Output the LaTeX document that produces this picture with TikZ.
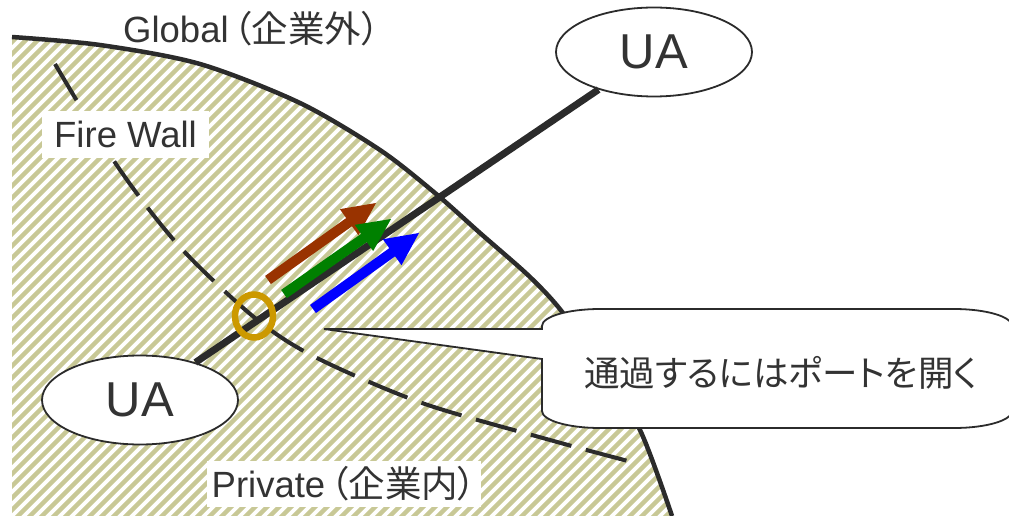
\documentclass[tikz,border=0pt]{standalone}
\usepackage{fontspec}
\setmainfont{Liberation Sans}
\newfontfamily\jp[RawFeature={+palt}]{Noto Sans CJK JP}
\usetikzlibrary{calc,shapes.geometric}
\definecolor{ink}{HTML}{2B2B2B}
\definecolor{txt}{HTML}{333333}
\definecolor{hatchc}{HTML}{C8C896}
\definecolor{brownA}{HTML}{993300}
\definecolor{greenA}{HTML}{008000}
\definecolor{blueA}{HTML}{0000FF}
\definecolor{goldA}{HTML}{CC9900}
\begin{document}
\begin{tikzpicture}[x=1pt,y=-1pt,
  hatchline/.style={hatchc, line width=4.5pt},
  boundary/.style={ink, line width=4.5pt},
  fwline/.style={ink, line width=4pt, dash pattern=on 42pt off 15pt},
  uanode/.style={ellipse, draw=ink, line width=1.8pt, fill=white, minimum width=196pt, minimum height=89pt, inner sep=0pt, text=txt, font=\fontsize{49}{52}\selectfont},
  ualine/.style={ink, line width=7pt},
  tagbox/.style={fill=white, text=txt, font=\fontsize{36.5}{40}\selectfont, inner xsep=0pt, inner ysep=0pt, text height=33pt, text depth=6pt, minimum height=46pt},
  plaintext/.style={inner sep=0pt, text=txt},
  portring/.style={ellipse, draw=goldA, line width=6.5pt, minimum width=38pt, minimum height=43pt, inner sep=0pt},
  bubble/.style={draw=ink, line width=1.8pt, fill=white}
]
\clip (0,0) rectangle (1009,516);

% hatched private region
\begin{scope}
  \clip plot[smooth] coordinates {(12,37) (100,45) (200,64) (300,103) (380,150) (435,193) (480,233) (530,277) (563,313) (601,370) (640,430) (672,516)} -- (12,516) -- cycle;
  \foreach \i in {-500,-488,...,700} \draw[hatchline] (\i,530) -- ++(560,-560);
\end{scope}
\draw[boundary] plot[smooth] coordinates {(12,37) (100,45) (200,64) (300,103) (380,150) (435,193) (480,233) (530,277) (563,313) (601,370) (640,430) (672,516)};

% fire wall (dashed)
\draw[fwline] plot[smooth] coordinates {(55,64) (118,167) (180,247) (255,318) (315,357) (422,403) (550,440) (628,461)};

% labels with white background
\node[tagbox, minimum width=167pt, anchor=base] (fw) at (125.5,148) {Fire Wall};
\node[tagbox, minimum width=274pt, anchor=base] (priv) at (344,497) {Private\kern5pt{\jp （企業内）}};

% user agents and link
\node[uanode] (ua2) at (654,52) {UA};
\node[uanode] (ua1) at (140,400) {UA};
\draw[ualine] (ua1) -- (ua2);

% port ring
\node[portring] (port) at (254,316) {};

% block arrows
\coordinate (b-T) at (268,280); \coordinate (b-P) at (376,203);
\coordinate (g-T) at (284,294); \coordinate (g-P) at (391,219);
\coordinate (u-T) at (313,309); \coordinate (u-P) at (419,233);
\foreach \c/\n in {brownA/b, greenA/g, blueA/u} {
  \coordinate (\n-B) at ($(\n-P)!33pt!(\n-T)$);
  \fill[\c] ($(\n-T)!5pt!90:(\n-P)$) -- ($(\n-B)!5pt!90:(\n-P)$) -- ($(\n-B)!16pt!90:(\n-P)$) -- (\n-P)
    -- ($(\n-B)!16pt!-90:(\n-P)$) -- ($(\n-B)!5pt!-90:(\n-P)$) -- ($(\n-T)!5pt!-90:(\n-P)$) -- cycle;
}

% callout
\coordinate (tip) at (324,329);
\draw[bubble] (tip) -- (542,329) -- (542,326) .. controls (542,316.6) and (568,309) .. (600,309) -- (954,309)
  .. controls (986,309) and (1012,316.6) .. (1012,326) -- (1012,411)
  .. controls (1012,420.4) and (986,428) .. (954,428) -- (600,428)
  .. controls (568,428) and (542,420.4) .. (542,411) -- (542,359) -- cycle;
\node[plaintext, anchor=base, font=\jp\fontsize{35.5}{40}\selectfont] (msg) at (781,386) {通過するにはポートを開く};

% global label
\node[plaintext, anchor=base west, font=\fontsize{36.5}{40}\selectfont] (global) at (123,43) {Global\kern5pt{\jp （企業外）}};
\end{tikzpicture}
\end{document}
